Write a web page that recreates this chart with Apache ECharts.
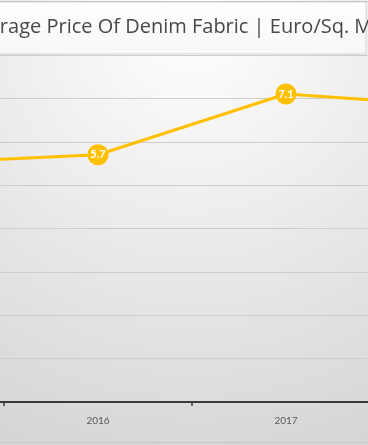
<!DOCTYPE html>
<html>
<head>
<meta charset="utf-8">
<script src="https://cdn.jsdelivr.net/npm/echarts@6/dist/echarts.min.js"></script>
<style>
html,body{margin:0;padding:0;width:368px;height:445px;overflow:hidden;background:#e6e6e6;}
#wrap{position:absolute;left:0;top:0;width:368px;height:445px;overflow:hidden;}
#chart{position:absolute;left:-184px;top:0;width:752px;height:445px;}
</style>
</head>
<body>
<div id="wrap"><div id="chart"></div></div>
<script>
var titleText = "Average Price Of Denim Fabric | Euro/Sq. Mtr";
var years = ["2015", "2016", "2017", "2018"];
var prices = [5.5, 5.7, 7.1, 6.8];
var yTicks = [0, 1, 2, 3, 4, 5, 6, 7, 8];

var OFF = 184; // container offset
var chart = echarts.init(document.getElementById('chart'), null, {renderer: 'canvas'});
chart.setOption({
  animation: false,
  backgroundColor: {
    type: 'radial', x: 0.5, y: 0.05, r: 1.0,
    colorStops: [{offset: 0, color: '#ffffff'}, {offset: 1, color: '#d6d6d6'}]
  },
  graphic: [
    {type: 'rect', z: 10, shape: {x: OFF - 2, y: 2, width: 366 + 2, height: 52},
     style: {fill: {type: 'linear', x: 0, y: 0, x2: 0, y2: 1, colorStops: [{offset: 0, color: '#ffffff'}, {offset: 1, color: '#f7f7f7'}]},
             stroke: '#d4d4d4', lineWidth: 1}},
    {type: 'line', z: 11, shape: {x1: 0, y1: 1.5, x2: 752, y2: 1.5}, style: {stroke: '#c8c8c8', lineWidth: 1}},
    {type: 'line', z: 11, shape: {x1: 0, y1: 442.5, x2: 752, y2: 442.5}, style: {stroke: '#c8c8c8', lineWidth: 1}},
    {type: 'text', z: 12, x: OFF - 34, y: 27,
     style: {text: titleText, fill: '#484848', font: '20px "Open Sans"', textVerticalAlign: 'middle', textBaseline: 'middle'}}
  ],
  grid: {left: 0, right: 0, top: 55, bottom: 43},
  xAxis: {
    type: 'category', data: years, boundaryGap: true,
    axisLine: {lineStyle: {color: '#3a3a3a', width: 1.8}},
    axisTick: {show: true, length: 4, lineStyle: {color: '#3a3a3a', width: 1.5}},
    axisLabel: {color: '#595959', fontSize: 10, margin: 14, fontFamily: 'Lato'}
  },
  yAxis: {
    type: 'value', min: yTicks[0], max: yTicks[yTicks.length - 1], interval: 1,
    axisLine: {show: false}, axisTick: {show: false}, axisLabel: {show: false},
    splitLine: {lineStyle: {color: '#cdcdcd', width: 1}}
  },
  series: [{
    type: 'line', data: prices,
    symbol: 'circle', symbolSize: 21,
    lineStyle: {color: '#FFC000', width: 3},
    itemStyle: {color: '#FFC000'},
    label: {show: true, position: 'inside', color: '#ffffff', fontWeight: 'bold', fontSize: 11, fontFamily: 'Lato'}
  }]
});
</script>
</body>
</html>
